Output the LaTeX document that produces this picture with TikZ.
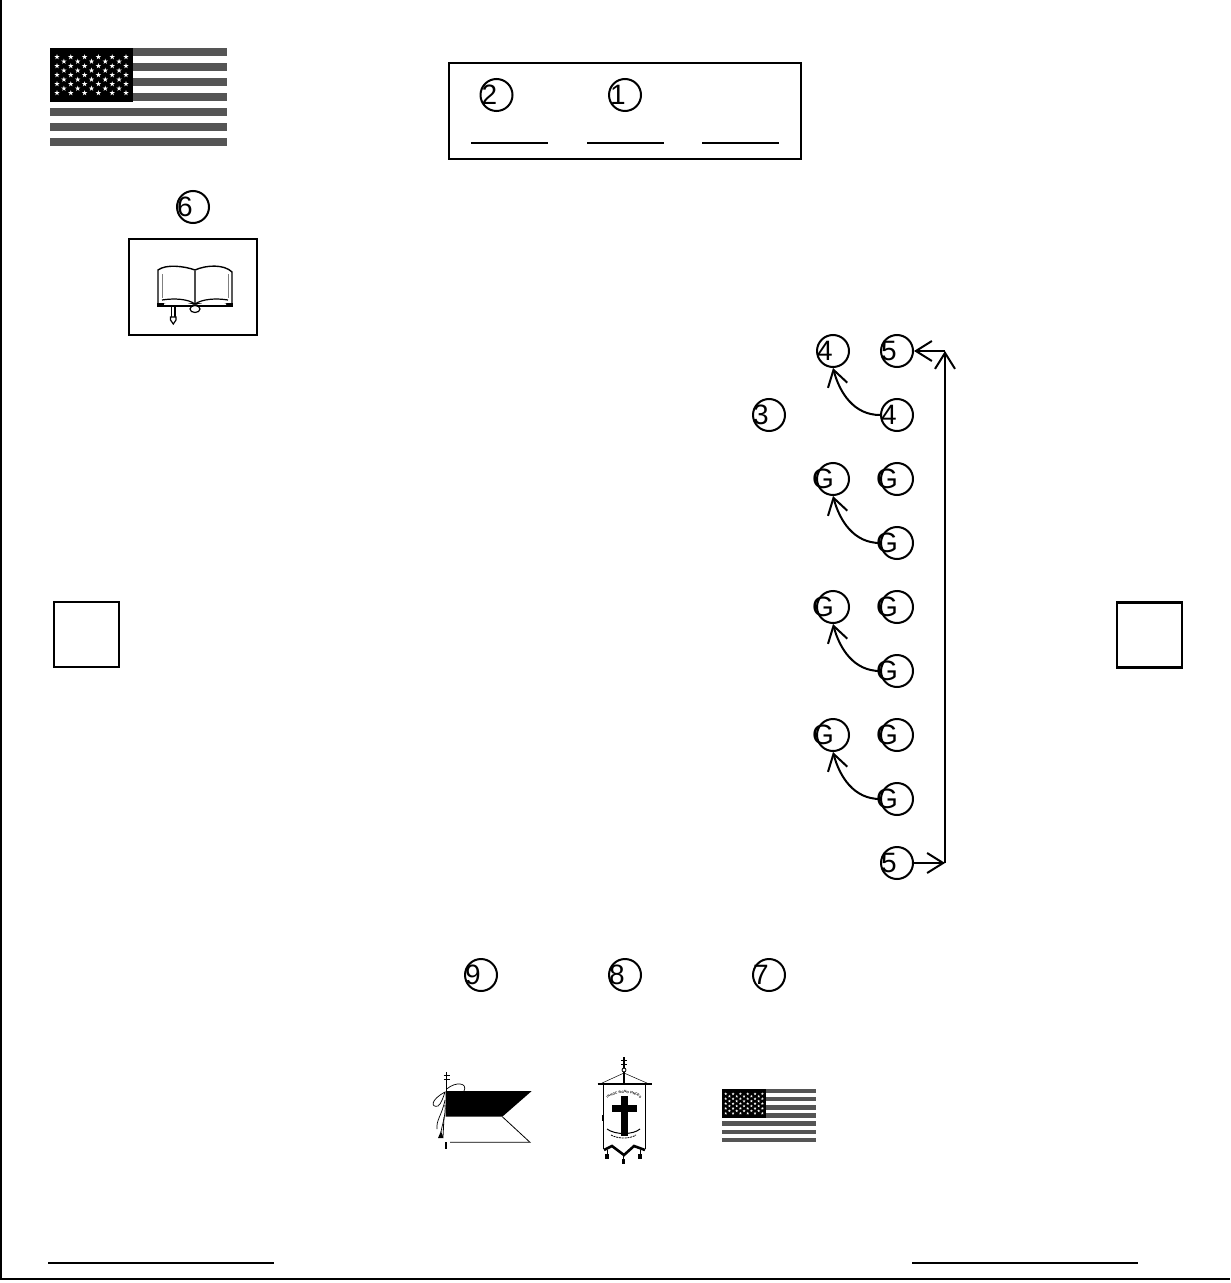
\documentclass[tikz,border=0pt]{standalone}
\usepackage{fontspec}
\setmainfont{Liberation Sans}
\usetikzlibrary{arrows.meta, decorations.text}
\definecolor{StripeGray}{HTML}{555555}
\newcommand{\offtext}[2]{\makebox[0pt]{#2\hspace{#1pt}}}
\tikzset{
  badge/.style={circle, draw, line width=1pt, minimum size=16pt, inner sep=0pt,
    font=\fontsize{14}{14}\selectfont},
  framebox/.style={draw, line width=1.1pt, inner sep=0pt},
  walk/.style={line width=1pt, -{Straight Barb[length=8pt,width=10pt]}},
  usflag/.pic={
    % stripes
    \foreach \k in {0,...,6}{
      \fill[StripeGray] (0,{15*\k}) rectangle (177,{15*\k+8});
    }
    % canton
    \fill[black] (0,0) rectangle (83,54);
    \foreach \r in {0,2,4,6,8}{
      \foreach \c in {0,...,5}{
        \fill[white, shift={({7+13.8*\c},{9+4.5*\r})}]
          (-90:2.8) -- (54:2.8) -- (198:2.8) -- (-18:2.8) -- (126:2.8) -- cycle;
      }
    }
    \foreach \r in {1,3,5,7}{
      \foreach \c in {0,...,4}{
        \fill[white, shift={({13.9+13.8*\c},{9+4.5*\r})}]
          (-90:2.8) -- (54:2.8) -- (198:2.8) -- (-18:2.8) -- (126:2.8) -- cycle;
      }
    }
  }
}
\begin{document}
\begin{tikzpicture}[x=0.5pt, y=-0.5pt]
    \useasboundingbox (0,0) rectangle (1230,1283);

    % Page edge
    \draw[line width=1.1pt] (1,0) -- (1,1279) -- (1230,1279);

    % Flag at top left
    \pic at (50,48) {usflag};

    % Head table
    \node[framebox, minimum width=176pt, minimum height=48pt] (headtable) at (625,111) {};
    \node[badge] (two) at (496.5,95) {\offtext{7}{2}};
    \node[badge] (one) at (625,95) {\offtext{7}{1}};
    \foreach \x in {471,587,702}{
      \draw[line width=1pt] (\x,143) -- ++(77,0);
    }

    % Lectern with book
    \node[badge] (six) at (193,207) {\offtext{8}{6}};
    \node[framebox, minimum width=64pt, minimum height=48pt] (lectern) at (193,287) {};
    \draw[line width=0.7pt] (158,303) -- (158,270)
      .. controls (166,264) and (184,266) .. (195,270)
      .. controls (206,265) and (224,264) .. (232,272) -- (232,303);
    \draw[line width=0.4pt, gray] (162,298) -- (162,274) (228,298) -- (228,274);
    \draw[line width=0.8pt, black!70] (195,270) -- (195,304);
    \draw[line width=0.6pt] (162,300) .. controls (175,298) and (188,299) .. (195,304)
      .. controls (202,299) and (216,298) .. (228,300);
    \fill (157,303) -- (233,303) -- (233,307) -- (157,307) -- cycle;
    \fill[white] (164,303.5) .. controls (175,301) and (188,302) .. (195,305.5)
      .. controls (202,302) and (216,301) .. (226,303.5) -- (226,305) -- (164,305) -- cycle;
    \draw[line width=0.6pt, fill=white] (195,309) ellipse (5 and 3.5);
    \draw[line width=0.7pt] (171.5,307) -- (171.5,317) (175,307) -- (175,317);
    \draw[line width=0.6pt, fill=white] (170.5,317) -- (176,317) -- (176,320) -- (173.3,324) -- (170.5,320) -- cycle;

    % Doors
    \node[framebox, minimum size=32.5pt] (doorleft) at (86.5,634.5) {};
    \node[framebox, minimum size=32.5pt] (doorright) at (1149.5,635) {};

    % Column on the right
    \node[badge] (three) at (769,415) {\offtext{8}{3}};
    \node[badge] (fourtop) at (833,351) {\offtext{8}{4}};
    \node[badge] (fivetop) at (897,351) {\offtext{8}{5}};
    \node[badge] (fourlow) at (897,415) {\offtext{8}{4}};
    \draw[walk] (fourlow.west) to[out=180, in=-75] (fourtop.south);

    \foreach \y/\nm in {479/a, 607/b, 735/c}{
      \node[badge] (gleft\nm) at (833,\y) {\offtext{10}{G}};
      \node[badge] (gright\nm) at (897,\y) {\offtext{10}{G}};
      \node[badge] (glow\nm) at (897,\y+64) {\offtext{10}{G}};
      \draw[walk] (glow\nm.west) to[out=180, in=-75] (gleft\nm.south);
    }

    % Outer route
    \node[badge] (fivelow) at (897,863) {\offtext{8}{5}};
    \coordinate (turnlow) at (945,863);
    \coordinate (turntop) at (945,351);
    \draw[walk] (fivelow) -- (turnlow);
    \draw[walk] (turnlow) -- (turntop);
    \draw[walk] (turntop) -- (fivetop);

    % Lower row
    \node[badge] (nine) at (481,975) {\offtext{8}{9}};
    \node[badge] (eight) at (625,975) {\offtext{8}{8}};
    \node[badge] (seven) at (769,975) {\offtext{8}{7}};

    % Pennant
    \fill (445.7,1091) -- (531.7,1091) -- (502.3,1116.7) -- (445.7,1116.7) -- cycle;
    \draw[line width=0.4pt] (502.3,1116.7) -- (530,1142.3) -- (450,1142.3);
    \draw[line width=1.1pt] (446,1142) -- (446,1148.5);
    \draw[line width=0.6pt] (446.7,1072) -- (446.7,1091);
    \foreach \y in {1075.7,1079.5}{
      \draw[line width=0.6pt] (443.5,\y) -- (450,\y);
    }
    \draw[line width=0.35pt] (446.7,1089) .. controls (456,1081) and (468,1083) .. (464,1091)
      (445,1092) .. controls (430,1100) and (431,1108) .. (438,1106)
      .. controls (441,1104) and (443,1098) .. (445,1092)
      (445,1100) .. controls (442,1115) and (436,1120) .. (437,1129)
      (445,1105) .. controls (446,1115) and (442,1125) .. (441,1132);
    \draw[line width=0.4pt] (444,1117) -- (443,1137);
    \fill (441,1131) -- (443.5,1138) -- (438,1138) -- cycle;

    % Banner
    \draw[line width=0.7pt] (624,1057) -- (624,1084);
    \foreach \y in {1060.7,1064.2}{
      \draw[line width=0.7pt] (621,\y) -- (627,\y);
    }
    \draw[line width=0.4pt, fill=white] (624,1070) circle (2);
    \draw[line width=0.25pt] (624,1073) -- (601,1083.5) (624,1073) -- (648,1083.5);
    \draw[line width=1pt] (597.7,1084) -- (651.7,1084);
    \draw[line width=0.3pt] (603.5,1084) -- (603.5,1149) (645,1084) -- (645,1149);
    \draw[line width=0.8pt] (603,1115) -- (603,1121) (645.5,1115) -- (645.5,1121);
    \fill (620.7,1096) rectangle (628,1136);
    \fill (612,1105) rectangle (636.7,1111.7);
    \path[postaction={decorate, decoration={text along path, text align=center,
        text={|\fontsize{1.6}{2}\selectfont\bfseries|IN HOC SIGNO VINCES}}}]
      (607,1099) .. controls (615,1091) and (633,1091) .. (641,1099);
    \draw[line width=0.5pt] (607,1129) .. controls (615,1135) and (633,1135) .. (640,1129);
    \draw[line width=0.4pt, dash pattern=on 1pt off 0.4pt] (611,1135) .. controls (618,1139) and (630,1139) .. (636,1135);
    \draw[line width=1.3pt] (604,1150) -- (612,1146) -- (624,1155) -- (634,1146) -- (645,1150);
    \foreach \x/\y in {607/1150, 623.5/1155, 640/1150}{
      \draw[line width=0.5pt] (\x,\y) -- (\x,\y+4);
      \fill (\x-1.8,\y+4) rectangle (\x+1.8,\y+9);
    }

    % Flag beside the banner
    \pic[xscale=0.531, yscale=0.54] at (722,1089) {usflag};

    % Signature lines
    \draw[line width=1pt] (48,1263) -- (274,1263);
    \draw[line width=1pt] (912,1263) -- (1138,1263);
  \end{tikzpicture}
\end{document}
